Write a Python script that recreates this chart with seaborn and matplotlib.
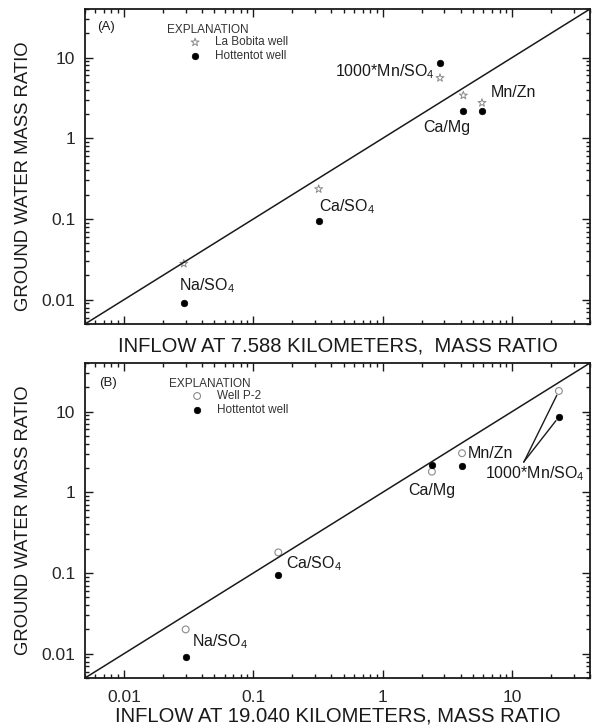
import numpy as np
import pandas as pd
import matplotlib
matplotlib.use("Agg")
import matplotlib.pyplot as plt
import seaborn as sns

# =====================================
# DATA
# =====================================

ratio_labels = ["Na/SO$_4$", "Ca/SO$_4$", "Ca/Mg", "Mn/Zn", "1000*Mn/SO$_4$"]

# panel A: inflow at 7.588 km
inflow_a = [0.029, 0.32, 4.2, 5.85, 2.77]
la_bobita_a = [0.028, 0.235, 3.4, 2.75, 5.6]
hottentot_a = [0.009, 0.095, 2.15, 2.15, 8.5]

# panel B: inflow at 19.040 km
inflow_b = [0.03, 0.156, 2.4, 4.1, 23.0]
well_p2_b = [0.02, 0.18, 1.8, 3.05, 18.0]
hottentot_b = [0.009, 0.095, 2.15, 2.1, 8.6]

# 1:1 line spans the axis limits
one_to_one = [0.005, 40]
tick_values = [0.01, 0.1, 1, 10]
tick_labels = ["0.01", "0.1", "1", "10"]

# =====================================
# STYLE
# =====================================

sns.set_style("ticks")
plt.rcParams["font.family"] = ["Liberation Sans", "DejaVu Sans"]
plt.rcParams["mathtext.fontset"] = "custom"
plt.rcParams["mathtext.rm"] = "Liberation Sans"
plt.rcParams["mathtext.default"] = "regular"

GREY = "#8a8a8a"
INK = "#1a1a1a"

fig = plt.figure(figsize=(5.92, 7.28), dpi=100)
ax_a = fig.add_axes([85 / 592, 1 - 324 / 728, 505 / 592, 315 / 728])
ax_b = fig.add_axes([85 / 592, 1 - 678 / 728, 505 / 592, 315 / 728])


def style_axes(ax):
    ax.set_xscale("log")
    ax.set_yscale("log")
    ax.set_xlim(one_to_one)
    ax.set_ylim(one_to_one)
    ax.set_xticks(tick_values)
    ax.set_yticks(tick_values)
    ax.set_yticklabels(tick_labels)
    ax.tick_params(which="both", direction="in", top=True, right=True,
                   width=1.0, color=INK)
    ax.tick_params(which="major", length=6, labelsize=12.5, pad=7)
    ax.tick_params(axis="x", which="major", pad=9)
    ax.tick_params(which="minor", length=3)
    for spine in ax.spines.values():
        spine.set_linewidth(1.3)
        spine.set_color(INK)
    ax.set_ylabel("GROUND WATER MASS RATIO", fontsize=13.3, color=INK)


def label_points(ax, xs, ys, offsets, has):
    for text, x, y, off, ha in zip(ratio_labels, xs, ys, offsets, has):
        if text.startswith("1000") and ax is ax_b:
            continue
        ax.annotate(text, xy=(x, y), xytext=off, textcoords="offset points",
                    ha=ha, va="center", fontsize=11.5, color=INK)


# =====================================
# PANEL A
# =====================================

sns.lineplot(x=one_to_one, y=one_to_one, color=INK, linewidth=1.1, ax=ax_a)
sns.scatterplot(x=inflow_a, y=la_bobita_a, marker="*", s=36,
                facecolor="none", edgecolor=GREY, linewidth=0.7,
                label="La Bobita well", ax=ax_a)
sns.scatterplot(x=inflow_a, y=hottentot_a, marker="o", s=22,
                color="black", edgecolor="black", linewidth=0.5,
                label="Hottentot well", ax=ax_a)
style_axes(ax_a)
ax_a.set_xticklabels([])
ax_a.set_xlabel("INFLOW AT 7.588 KILOMETERS,  MASS RATIO", fontsize=14.6,
                color=INK, labelpad=0)
ax_a.yaxis.set_label_coords(-0.105, 0.47)

label_points(ax_a, inflow_a, hottentot_a,
             [(-3.6, 12.5), (0, 10.3), (-29, -11.8), (6.5, 13.4), (-3.6, -5.8)],
             ["left", "left", "left", "left", "right"])
ax_a.text(0.025, 0.944, "(A)", transform=ax_a.transAxes, fontsize=9.5,
          color=INK, va="center")
ax_a.text(0.162, 0.933, "EXPLANATION", transform=ax_a.transAxes,
          fontsize=8.5, color="#333333", va="center")
ax_a.legend(loc="upper left", bbox_to_anchor=(0.204, 0.913), frameon=False,
            fontsize=8.5, borderpad=0, borderaxespad=0, handlelength=1.2,
            handletextpad=1.1, labelspacing=0.15, labelcolor="#333333")

# =====================================
# PANEL B
# =====================================

sns.lineplot(x=one_to_one, y=one_to_one, color=INK, linewidth=1.1, ax=ax_b)
sns.scatterplot(x=inflow_b, y=well_p2_b, marker="o", s=24,
                facecolor="none", edgecolor=GREY, linewidth=0.8,
                label="Well P-2", ax=ax_b)
sns.scatterplot(x=inflow_b, y=hottentot_b, marker="o", s=22,
                color="black", edgecolor="black", linewidth=0.5,
                label="Hottentot well", ax=ax_b)
style_axes(ax_b)
ax_b.set_xticklabels(tick_labels)
ax_b.set_xlabel("INFLOW AT 19.040 KILOMETERS, MASS RATIO", fontsize=14.6,
                color=INK, labelpad=1)
ax_b.yaxis.set_label_coords(-0.105, 0.5)

label_points(ax_b, inflow_b, hottentot_b,
             [(4.9, 11.5), (5.4, 7.9), (-17.1, -18.2), (4.4, 9.4), (0, 0)],
             ["left", "left", "left", "left", "left"])

# 1000*Mn/SO4 label with leader lines to both wells
ax_b.annotate(ratio_labels[4], xy=(inflow_b[4], hottentot_b[4]),
              xytext=(-53, -40.6), textcoords="offset points",
              ha="left", va="center", fontsize=11.5, color=INK)
leader_offsets = [(-25.3, -51.3), (-25.3, -32.4)]
for yv, off in zip([well_p2_b[4], hottentot_b[4]], leader_offsets):
    ax_b.annotate("", xy=(inflow_b[4], yv), xytext=off,
                  textcoords="offset points",
                  arrowprops=dict(arrowstyle="-", color=INK, lw=1.0,
                                  shrinkA=0, shrinkB=3.5))

ax_b.text(0.028, 0.937, "(B)", transform=ax_b.transAxes, fontsize=9.5,
          color=INK, va="center")
ax_b.text(0.166, 0.933, "EXPLANATION", transform=ax_b.transAxes,
          fontsize=8.5, color="#333333", va="center")
ax_b.legend(loc="upper left", bbox_to_anchor=(0.208, 0.914), frameon=False,
            fontsize=8.5, borderpad=0, borderaxespad=0, handlelength=1.2,
            handletextpad=1.1, labelspacing=0.15, labelcolor="#333333")

plt.savefig("out.png", dpi=100)
plt.close()
